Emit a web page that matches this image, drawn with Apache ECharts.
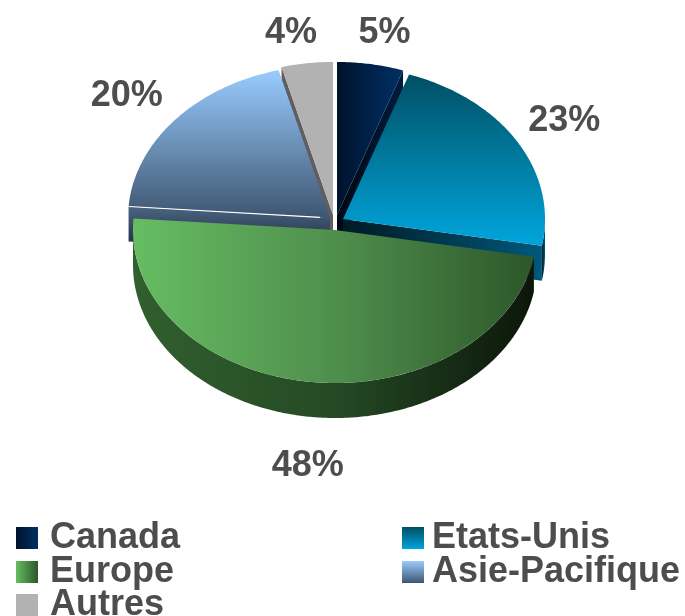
<!DOCTYPE html>
<html>
<head>
<meta charset="utf-8">
<style>
  html, body { margin: 0; padding: 0; background: #fff; }
  #chart { width: 685px; height: 616px; }
</style>
<script src="https://cdn.jsdelivr.net/npm/echarts@6/dist/echarts.min.js"></script>
</head>
<body>
<div id="chart"></div>
<script>
// data
const categories = ['Canada', 'Etats-Unis', 'Europe', 'Asie-Pacifique', 'Autres'];
// the labels show these rounded
const shares = [5.3, 22.5, 48.4, 19.7, 4.1];

// disc layout
const center = [336, 218];
const rx = 202;
const ry = 153;
const depth = 35;
// how far each slice is pulled out of the disc
const pulls = [[1, -3], [7, 1], [-1, 12], [-6, 0], [-3, -3]];
const labelRadius = 1.27;
const labelNudge = [[5, 10], [0, 0], [5, 43], [-6, 2], [-9, 11]];
// painted from the back of the disc to the front
const drawOrder = [4, 0, 1, 3, 2];

function grad(horizontal, from, to, mid) {
  const stops = [{ offset: 0, color: from }];
  if (mid) stops.push({ offset: 0.5, color: mid });
  stops.push({ offset: 1, color: to });
  return new echarts.graphic.LinearGradient(0, 0, horizontal ? 1 : 0, horizontal ? 0 : 1, stops);
}

const topColors = [
  grad(true, '#00122c', '#003064'),
  grad(false, '#004f63', '#00a5dc'),
  grad(true, '#66bd62', '#2d5729', '#4f8f4d'),
  grad(false, '#99ccff', '#3e5570'),
  grad(false, '#b2b2b2', '#b2b2b2')
];
const wallColors = [
  grad(true, '#000814', '#001c3c'),
  grad(true, '#001a24', '#00587a'),
  grad(true, '#315f2f', '#0c160a', '#254a25'),
  grad(false, '#4a6582', '#1b2536'),
  grad(false, '#5f5f5f', '#5f5f5f')
];
const legendColors = [
  grad(true, '#00122c', '#003064'),
  grad(false, '#004f63', '#00a5dc'),
  grad(true, '#66bd62', '#2d5729'),
  grad(false, '#99ccff', '#3e5570'),
  grad(false, '#b2b2b2', '#b2b2b2')
];

const total = shares.reduce((a, b) => a + b, 0);

function sliceAngles(i) {
  let before = 0;
  for (let k = 0; k < i; k++) before += shares[k];
  return [before / total * Math.PI * 2, (before + shares[i]) / total * Math.PI * 2];
}

function rim(cx, cy, a) {
  return [cx + rx * Math.sin(a), cy - ry * Math.cos(a)];
}

function arcPoints(cx, cy, a0, a1) {
  const pts = [];
  const steps = Math.max(2, Math.ceil((a1 - a0) / 0.01));
  for (let s = 0; s <= steps; s++) {
    pts.push(rim(cx, cy, a0 + (a1 - a0) * s / steps));
  }
  return pts;
}

function down(p) {
  return [p[0], p[1] + depth];
}

function renderSlice(i, share) {
  const [a0, a1] = sliceAngles(i);
  const cx = center[0] + pulls[i][0];
  const cy = center[1] + pulls[i][1];
  const apex = [cx, cy];
  const tipStart = rim(cx, cy, a0);
  const tipEnd = rim(cx, cy, a1);
  const children = [];

  const wall = pts => ({ type: 'polygon', shape: { points: pts }, style: { fill: wallColors[i] } });

  // cut faces that look towards the viewer
  if (a0 > Math.PI) {
    children.push(wall([tipStart, apex, down(apex), down(tipStart)]));
  }
  if (a1 < Math.PI) {
    children.push(wall([apex, tipEnd, down(tipEnd), down(apex)]));
  }
  // the front part of the outer rim
  const f0 = Math.max(a0, Math.PI / 2);
  const f1 = Math.min(a1, Math.PI * 1.5);
  if (f1 > f0) {
    const edge = arcPoints(cx, cy, f0, f1);
    children.push(wall(edge.concat(edge.map(down).reverse())));
  }
  // top face
  children.push({
    type: 'polygon',
    shape: { points: [apex].concat(arcPoints(cx, cy, a0, a1)) },
    style: { fill: topColors[i] }
  });
  // highlight along the lower edge of Asie-Pacifique
  if (categories[i] === 'Asie-Pacifique') {
    children.push({
      type: 'polyline',
      shape: { points: [tipStart, [tipStart[0] + (cx - tipStart[0]) * 0.95, tipStart[1] + (cy - tipStart[1]) * 0.95]] },
      style: { stroke: '#fff', lineWidth: 1.2, fill: null }
    });
  }
  // percent label
  const mid = (a0 + a1) / 2;
  children.push({
    type: 'text',
    z2: 10,
    style: {
      x: cx + rx * labelRadius * Math.sin(mid) + labelNudge[i][0],
      y: cy - ry * labelRadius * Math.cos(mid) + labelNudge[i][1],
      text: Math.round(share) + '%',
      fill: '#4d4d4d',
      font: 'bold 36px "Liberation Sans", Arial, sans-serif',
      align: 'center',
      verticalAlign: 'middle'
    }
  });
  return { type: 'group', children };
}

const series = drawOrder.map(i => ({
  type: 'custom',
  name: categories[i],
  coordinateSystem: 'none',
  silent: true,
  animation: false,
  itemStyle: { color: legendColors[i] },
  data: [[shares[i]]],
  renderItem: (params, api) => renderSlice(i, api.value(0))
}));

// one legend per entry, the rows sit closer than the font size
function legendEntry(name, left, top, textGap) {
  return {
    orient: 'vertical',
    left: left,
    top: top,
    padding: 0,
    itemWidth: 22,
    itemHeight: 22,
    icon: 'rect',
    selectedMode: false,
    textStyle: {
      color: '#4d4d4d',
      fontFamily: '"Liberation Sans", Arial, sans-serif',
      fontWeight: 'bold',
      fontSize: 36,
      lineHeight: 30,
      padding: [0, 0, 0, textGap]
    },
    data: [{ name: name, itemStyle: { color: legendColors[categories.indexOf(name)] } }]
  };
}

const myChart = echarts.init(document.getElementById('chart'), null, { renderer: 'canvas' });
myChart.setOption({
  animation: false,
  backgroundColor: '#ffffff',
  legend: [
    legendEntry('Canada', 16, 520, 7),
    legendEntry('Europe', 16, 554, 7),
    legendEntry('Autres', 16, 587, 7),
    legendEntry('Etats-Unis', 402, 520, 3),
    legendEntry('Asie-Pacifique', 402, 554, 3)
  ],
  series: series
});
</script>
</body>
</html>
